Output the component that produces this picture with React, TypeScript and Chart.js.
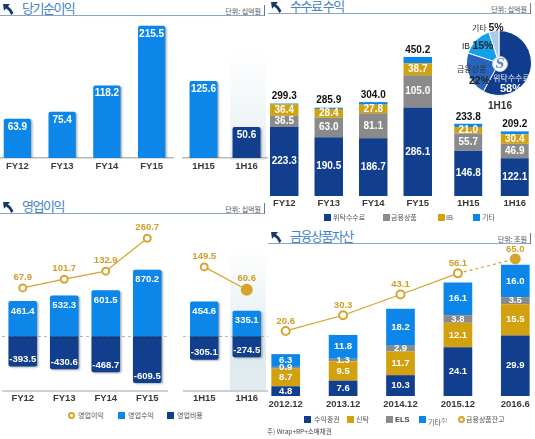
import React, { useEffect, useRef } from "react";
import { Chart, registerables } from "chart.js";
Chart.register(...registerables);

// ---------------- data ----------------
const netFYLabels = ["FY12", "FY13", "FY14", "FY15"];
const netFYValues = [63.9, 75.4, 118.2, 215.5];
const netHLabels = ["1H15", "1H16"];
const netHValues = [125.6, 50.6];

const feeFYLabels = ["FY12", "FY13", "FY14", "FY15"];
const feeBrokerageFY = [223.3, 190.5, 186.7, 286.1];
const feeProductsFY = [36.5, 63.0, 81.1, 105.0];
const feeIBFY = [36.4, 28.4, 27.8, 38.7];
const feeOtherFY = [3.1, 4.0, 8.4, 20.4];
const feeHLabels = ["1H15", "1H16"];
const feeBrokerageH = [146.8, 122.1];
const feeProductsH = [55.7, 46.9];
const feeIBH = [21.0, 30.4];
const feeOtherH = [10.3, 9.8];

const pieLabels = ["위탁수수료", "금융상품", "IB", "기타"];
const pieValues = [58, 22, 15, 5];

const opFYLabels = ["FY12", "FY13", "FY14", "FY15"];
const opRevFY = [461.4, 532.3, 601.5, 870.2];
const opCostFY = [-393.5, -430.6, -468.7, -609.5];
const opIncFY = [67.9, 101.7, 132.9, 260.7];
const opHLabels = ["1H15", "1H16"];
const opRevH = [454.6, 335.1];
const opCostH = [-305.1, -274.5];
const opIncH = [149.5, 60.6];

const assetLabels = ["2012.12", "2013.12", "2014.12", "2015.12", "2016.6"];
const assetFunds = [4.8, 7.6, 10.3, 24.1, 29.9];
const assetTrust = [8.7, 9.5, 11.7, 12.1, 15.5];
const assetELS = [0.9, 1.3, 2.9, 3.8, 3.5];
const assetOther = [6.3, 11.8, 18.2, 16.1, 16.0];
const assetTotal = [20.6, 30.3, 43.1, 56.1, 65.0];

// ---------------- styles ----------------
const NAVY = "#113e8d";
const BLUE = "#0c87e9";
const GREY = "#8a8a8a";
const GOLD = "#d3a00e";
const LINEGOLD = "#d6a42c";
const LBLGOLD = "#cf9d2a";
const LAT = '"Liberation Sans", Arial, sans-serif';
const KR = '"Noto Sans CJK KR", "Noto Sans", sans-serif';

const fmt = (v: number) => v.toFixed(1);

const labelsPlugin = {
  id: "vlabels",
  afterDatasetsDraw(chart: any) {
    const ctx = chart.ctx;
    chart.data.datasets.forEach((ds: any, i: number) => {
      const cfg = ds.vlabel;
      if (!cfg) return;
      const meta = chart.getDatasetMeta(i);
      ctx.save();
      ctx.font = cfg.font;
      ctx.fillStyle = cfg.color;
      ctx.textAlign = "center";
      ctx.textBaseline = "middle";
      meta.data.forEach((el: any, j: number) => {
        let y = el.y;
        let text = fmt(ds.data[j]);
        if (cfg.mode === "top") y = el.y + cfg.offset;
        else if (cfg.mode === "bottom") y = el.y - cfg.offset;
        else if (cfg.mode === "center") y = (el.y + el.base) / 2;
        else if (cfg.mode === "above") y = el.y - cfg.offset;
        else if (cfg.mode === "total") {
          let s = 0;
          chart.data.datasets.forEach((d: any) => {
            if (d.type !== "line") s += d.data[j];
          });
          text = fmt(s);
          y = el.y - cfg.offset;
        }
        ctx.fillText(text, el.x, y);
      });
      ctx.restore();
    });
  },
};

const shadowPlugin = {
  id: "barShadow",
  beforeDatasetDraw(chart: any, args: any, opts: any) {
    if (!opts || !opts.enabled || args.meta.type !== "bar") return;
    const ctx = chart.ctx;
    ctx.save();
    ctx.shadowColor = "rgba(0,0,0,0.3)";
    ctx.shadowBlur = 2;
    ctx.shadowOffsetX = 1.5;
    ctx.shadowOffsetY = 1;
  },
  afterDatasetDraw(chart: any, args: any, opts: any) {
    if (!opts || !opts.enabled || args.meta.type !== "bar") return;
    chart.ctx.restore();
  },
};

const zeroLinePlugin = {
  id: "zeroLine",
  beforeDatasetsDraw(chart: any, _a: any, opts: any) {
    if (!opts || !opts.enabled) return;
    const { ctx, chartArea, scales } = chart;
    const y = Math.round(scales.y.getPixelForValue(0)) + 0.5;
    ctx.save();
    ctx.strokeStyle = opts.color;
    ctx.lineWidth = 1;
    ctx.setLineDash([3, 3]);
    ctx.beginPath();
    ctx.moveTo(chartArea.left, y);
    ctx.lineTo(chartArea.right, y);
    ctx.stroke();
    ctx.restore();
  },
};

const PLUGINS = [zeroLinePlugin, shadowPlugin, labelsPlugin];

function xAxis(padding: number, border?: { color: string; width: number }) {
  return {
    stacked: true,
    offset: true,
    grid: { display: false, drawTicks: false },
    border: border ? { display: true, color: border.color, width: border.width } : { display: false },
    ticks: {
      padding,
      color: "#3a3a3a",
      font: { family: LAT, size: 9.5, weight: "bold", lineHeight: "12px" },
      maxRotation: 0,
      autoSkip: false,
    },
  };
}

function baseOptions(scales: any, plugins: any = {}, padTop = 0) {
  return {
    responsive: false,
    animation: false,
    events: [],
    layout: { padding: { top: padTop, left: 0, right: 0, bottom: 0 }, autoPadding: false },
    plugins: {
      legend: { display: false },
      tooltip: { enabled: false },
      ...plugins,
    },
    scales,
  };
}

const valFont = (s: number) => `bold ${s}px ${LAT}`;

// ---------- chart configs ----------
function netConfig(labels: string[], values: number[], colors: string[], pct: number) {
  return {
    type: "bar",
    data: {
      labels,
      datasets: [
        {
          data: values,
          backgroundColor: colors,
          borderRadius: 2,
          barPercentage: pct,
          categoryPercentage: 1,
          vlabel: { mode: "top", offset: 8, font: valFont(10), color: "#fff" },
        },
      ],
    },
    options: baseOptions(
      { x: xAxis(2, { color: "#b9b9b9", width: 1.5 }), y: { display: false, min: 0, max: 225 } },
      { barShadow: { enabled: true } }
    ),
    plugins: PLUGINS,
  };
}

function feeConfig(labels: string[], a: number[], b: number[], c: number[], d: number[], pct: number) {
  const common = { barPercentage: pct, categoryPercentage: 1, borderWidth: 0 };
  const lbl = { mode: "center", font: valFont(10), color: "#fff" };
  return {
    type: "bar",
    data: {
      labels,
      datasets: [
        { label: "위탁수수료", data: a, backgroundColor: NAVY, ...common, vlabel: lbl },
        { label: "금융상품", data: b, backgroundColor: GREY, ...common, vlabel: lbl },
        { label: "IB", data: c, backgroundColor: GOLD, ...common, vlabel: lbl },
        {
          label: "기타",
          data: d,
          backgroundColor: BLUE,
          ...common,
          vlabel: { mode: "total", offset: 7, font: valFont(10), color: "#111" },
        },
      ],
    },
    options: baseOptions({ x: xAxis(1), y: { display: false, stacked: true, min: 0, max: 505 } }),
    plugins: PLUGINS,
  };
}

function pieConfig() {
  return {
    type: "pie",
    data: {
      labels: pieLabels,
      datasets: [
        {
          data: pieValues,
          backgroundColor: ["#0f3c8c", "#2664c0", "#14a0ec", "#a6cbef"],
          borderColor: "#fff",
          borderWidth: 1,
        },
      ],
    },
    options: baseOptions({}),
  };
}

function opConfig(labels: string[], rev: number[], cost: number[], inc: number[], pct: number, lastFilled: boolean) {
  const n = inc.length;
  const ptBg = inc.map((_, i) => (lastFilled && i === n - 1 ? LINEGOLD : "#fff"));
  const ptR = inc.map((_, i) => (lastFilled && i === n - 1 ? 5 : 3.5));
  return {
    type: "bar",
    data: {
      labels,
      datasets: [
        {
          type: "line",
          label: "영업이익",
          data: inc,
          yAxisID: "y1",
          borderColor: LINEGOLD,
          borderWidth: 1.2,
          pointRadius: ptR,
          pointBorderWidth: 2,
          pointBackgroundColor: ptBg,
          pointBorderColor: LINEGOLD,
          order: 1,
          vlabel: { mode: "above", offset: 11, font: valFont(9.5), color: LBLGOLD },
        },
        {
          label: "영업수익",
          data: rev,
          backgroundColor: BLUE,
          borderRadius: 2,
          barPercentage: pct,
          categoryPercentage: 1,
          order: 2,
          vlabel: { mode: "top", offset: 10, font: valFont(9.5), color: "#fff" },
        },
        {
          label: "영업비용",
          data: cost,
          backgroundColor: NAVY,
          borderRadius: 2,
          barPercentage: pct,
          categoryPercentage: 1,
          order: 2,
          vlabel: { mode: "bottom", offset: 7, font: valFont(9.5), color: "#fff" },
        },
      ],
    },
    options: baseOptions(
      {
        x: xAxis(1, { color: "#d0d0d0", width: 2 }),
        y: { display: false, stacked: true, min: -714, max: 1455 },
        y1: { display: false, stacked: false, min: -332, max: 312 },
      },
      { barShadow: { enabled: true }, zeroLine: { enabled: true, color: "#b8b8b8" } },
      20
    ),
    plugins: PLUGINS,
  };
}

function assetConfig() {
  const common = { barPercentage: 0.5, categoryPercentage: 1, borderWidth: 0, order: 2 };
  const lbl = { mode: "center", font: valFont(9.5), color: "#fff" };
  const n = assetTotal.length;
  return {
    type: "bar",
    data: {
      labels: assetLabels,
      datasets: [
        {
          type: "line",
          label: "금융상품잔고",
          data: assetTotal,
          yAxisID: "y1",
          borderColor: LINEGOLD,
          borderWidth: 1.2,
          segment: { borderDash: (c: any) => (c.p1DataIndex === n - 1 ? [3, 3] : undefined) },
          pointRadius: assetTotal.map((_, i) => (i === n - 1 ? 4.5 : 4)),
          pointBorderWidth: 2,
          pointBackgroundColor: assetTotal.map((_, i) => (i === n - 1 ? LINEGOLD : "#fff")),
          pointBorderColor: LINEGOLD,
          order: 1,
          vlabel: { mode: "above", offset: 10, font: valFont(9.5), color: LBLGOLD },
        },
        { label: "수익증권", data: assetFunds, backgroundColor: NAVY, ...common, vlabel: lbl },
        { label: "신탁", data: assetTrust, backgroundColor: GOLD, ...common, vlabel: lbl },
        { label: "ELS", data: assetELS, backgroundColor: GREY, ...common, vlabel: lbl },
        { label: "기타", data: assetOther, backgroundColor: BLUE, ...common, vlabel: lbl },
      ],
    },
    options: baseOptions(
      {
        x: xAxis(2),
        y: { display: false, stacked: true, min: 0, max: 72.2 },
        y1: { display: false, stacked: false, min: -19.5, max: 70.5 },
      },
      {},
      20
    ),
    plugins: PLUGINS,
  };
}

// ---------- components ----------
function ChartBox({ x, y, w, h, make }: { x: number; y: number; w: number; h: number; make: () => any }) {
  const ref = useRef<HTMLCanvasElement>(null);
  useEffect(() => {
    const c = new Chart(ref.current as HTMLCanvasElement, make());
    return () => c.destroy();
  }, []);
  return (
    <canvas
      ref={ref}
      width={w}
      height={h}
      style={{ position: "absolute", left: x, top: y, width: w, height: h }}
    />
  );
}

function Txt({
  x,
  y,
  size = 7,
  color = "#555",
  bold = false,
  family = KR,
  right,
  center,
  ls = 0,
  children,
}: any) {
  const lh = Math.round(size * 1.5);
  const style: any = {
    position: "absolute",
    top: y - lh / 2,
    fontSize: size,
    lineHeight: `${lh}px`,
    color,
    fontWeight: bold ? "bold" : "normal",
    fontFamily: family,
    whiteSpace: "nowrap",
    letterSpacing: ls,
  };
  if (right !== undefined) style.right = 535 - right;
  else if (center !== undefined) {
    style.left = center - 50;
    style.width = 100;
    style.textAlign = "center";
  } else style.left = x;
  return <div style={style}>{children}</div>;
}

function Icon({ x, y }: { x: number; y: number }) {
  return (
    <svg style={{ position: "absolute", left: x, top: y }} width={11} height={11} viewBox="0 0 11 11">
      <path d="M0 0 L7 0 L5 2.2 Q8.5 4.5 10.5 9 L8.3 11 Q6.5 6.5 3.2 4.6 L1 6.8 Z" fill="#17386e" />
    </svg>
  );
}

function Header({ x, w, line, title, unit }: { x: number; w: number; line: number; title: string; unit: string }) {
  return (
    <>
      <Icon x={x + 3} y={line - 11} />
      <Txt x={x + 22} y={line - 7} size={13} color="#4383cb" ls={-1.5}>
        {title}
      </Txt>
      <Txt right={x + w - 4} y={line - 4} size={7} color="#555">
        {unit}
      </Txt>
      <div style={{ position: "absolute", left: x, top: line, width: w, height: 1, background: "#8aa5c8" }} />
      <div style={{ position: "absolute", left: x + w - 1, top: line - 10, width: 1, height: 11, background: "#777" }} />
    </>
  );
}

function Sq({ x, y, color }: { x: number; y: number; color: string }) {
  return <div style={{ position: "absolute", left: x, top: y - 3.5, width: 7, height: 7, background: color }} />;
}

function Ring({ x, y }: { x: number; y: number }) {
  return (
    <div
      style={{
        position: "absolute",
        left: x,
        top: y - 3.5,
        width: 3,
        height: 3,
        border: `2px solid ${LINEGOLD}`,
        borderRadius: "50%",
      }}
    />
  );
}

export default function App() {
  return (
    <div
      style={{
        position: "fixed",
        left: 0,
        top: 0,
        width: 535,
        height: 439,
        overflow: "hidden",
        background: "#fff",
      }}
    >
      {/* column highlight backgrounds */}
      <div
        style={{
          position: "absolute",
          left: 230,
          top: 50,
          width: 36,
          height: 110,
          background: "linear-gradient(to bottom, rgba(232,240,244,0), #e6eff3)",
        }}
      />
      <div
        style={{
          position: "absolute",
          left: 230,
          top: 250,
          width: 36,
          height: 142,
          background: "linear-gradient(to bottom, rgba(226,237,241,0), #e0ebf0 70%)",
        }}
      />

      {/* headers */}
      <Header x={0} w={265} line={15} title="당기순이익" unit="단위: 십억원" />
      <Header x={268} w={263} line={13} title="수수료 수익" unit="단위: 십억원" />
      <Header x={0} w={265} line={213} title="영업이익" unit="단위: 십억원" />
      <Header x={268} w={263} line={243} title="금융상품자산" unit="단위: 조원" />

      {/* panel 1 */}
      <ChartBox x={-5} y={20} w={179} h={154} make={() => netConfig(netFYLabels, netFYValues, [BLUE, BLUE, BLUE, BLUE], 0.61)} />
      <ChartBox x={182} y={20} w={86} h={154} make={() => netConfig(netHLabels, netHValues, [BLUE, NAVY], 0.65)} />

      {/* panel 2 */}
      <ChartBox
        x={262}
        y={40}
        w={178}
        h={170}
        make={() => feeConfig(feeFYLabels, feeBrokerageFY, feeProductsFY, feeIBFY, feeOtherFY, 0.64)}
      />
      <ChartBox
        x={445}
        y={40}
        w={93}
        h={170}
        make={() => feeConfig(feeHLabels, feeBrokerageH, feeProductsH, feeIBH, feeOtherH, 0.6)}
      />
      <ChartBox x={466} y={30} w={66} h={66} make={pieConfig} />
      <div
        style={{
          position: "absolute",
          left: 492,
          top: 56,
          width: 14,
          height: 14,
          borderRadius: "50%",
          background: "#fff",
          border: "1px solid #b8cde6",
          color: "#5b8fd0",
          fontFamily: "DejaVu Serif, serif",
          fontStyle: "italic",
          fontWeight: "bold",
          fontSize: 12,
          lineHeight: "14px",
          textAlign: "center",
        }}
      >
        S
      </div>
      <Txt x={472} y={27} size={8} color="#333">
        기타 <span style={{ fontFamily: LAT, fontWeight: "bold", fontSize: 10.5, color: "#222" }}>5%</span>
      </Txt>
      <Txt x={462} y={45} size={8.5} color="#222" family={LAT}>
        IB <span style={{ fontWeight: "bold", fontSize: 10.5 }}>15%</span>
      </Txt>
      <Txt x={457} y={68.5} size={8} color="#333">
        금융상품
      </Txt>
      <Txt x={469} y={80} size={10.5} color="#222" bold family={LAT}>
        22%
      </Txt>
      <Txt x={493} y={78} size={8} color="#e8eef8">
        위탁수수료
      </Txt>
      <Txt x={500} y={88.5} size={11} color="#fff" bold family={LAT}>
        58%
      </Txt>
      <Txt center={500} y={105} size={10} color="#333" bold family={LAT}>
        1H16
      </Txt>

      {/* panel 2 legend */}
      <Sq x={324} y={217.5} color={NAVY} />
      <Txt x={333} y={217.5} size={7}>위탁수수료</Txt>
      <Sq x={383} y={217.5} color={GREY} />
      <Txt x={391} y={217.5} size={7}>금융상품</Txt>
      <Sq x={438} y={217.5} color={GOLD} />
      <Txt x={446} y={217.5} size={7.5} family={LAT}>IB</Txt>
      <Sq x={473} y={217.5} color={BLUE} />
      <Txt x={482} y={217.5} size={7}>기타</Txt>

      {/* panel 3 */}
      <ChartBox
        x={2}
        y={205}
        w={166}
        h={200}
        make={() => opConfig(opFYLabels, opRevFY, opCostFY, opIncFY, 0.69, false)}
      />
      <ChartBox
        x={183}
        y={205}
        w={85}
        h={200}
        make={() => opConfig(opHLabels, opRevH, opCostH, opIncH, 0.67, true)}
      />
      <Ring x={68} y={415} />
      <Txt x={78} y={415} size={7}>영업이익</Txt>
      <Sq x={118} y={415} color={BLUE} />
      <Txt x={128} y={415} size={7}>영업수익</Txt>
      <Sq x={167} y={415} color={NAVY} />
      <Txt x={177} y={415} size={7}>영업비용</Txt>

      {/* panel 4 */}
      <ChartBox x={257} y={230} w={287} h={182} make={assetConfig} />
      <Sq x={304} y={419} color={NAVY} />
      <Txt x={314} y={419} size={7}>수익증권</Txt>
      <Sq x={347} y={419} color={GOLD} />
      <Txt x={356} y={419} size={7}>신탁</Txt>
      <Sq x={386} y={419} color={GREY} />
      <Txt x={395} y={419} size={7.5} family={LAT} bold color="#444">ELS</Txt>
      <Sq x={419} y={419} color={BLUE} />
      <Txt x={428} y={419} size={7}>
        기타<sup style={{ fontSize: 5 }}>주)</sup>
      </Txt>
      <Ring x={458} y={419} />
      <Txt x={466} y={419} size={7}>금융상품잔고</Txt>
      <Txt x={267} y={431} size={6.5} color="#444">
        주) Wrap+RP+소매채권
      </Txt>
    </div>
  );
}
